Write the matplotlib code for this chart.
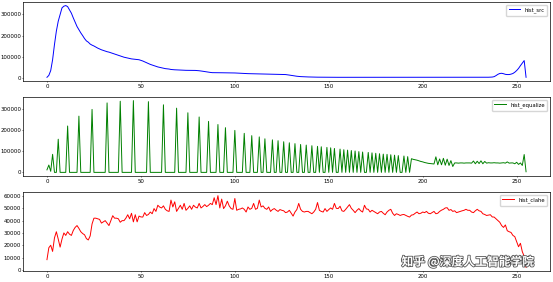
import matplotlib
matplotlib.use("Agg")
import matplotlib.pyplot as plt
import matplotlib.patheffects as pe

# histogram values (256 bins each)
hist_src = [
    3000, 12000, 35000, 86000, 158000, 221000, 268000, 300000, 331000, 339000, 342000, 337000, 322000, 306000, 284000, 264000,
    243000, 228000, 213000, 200000, 186000, 175000, 169000, 160000, 155000, 151000, 146000, 141000, 137000, 133000, 130000, 127000,
    124000, 122000, 119000, 116000, 113000, 110000, 107000, 104000, 101000, 98000, 96000, 94000, 92000, 90000, 89000, 88000,
    87000, 86000, 83000, 80000, 76000, 72000, 68000, 64000, 61000, 58000, 55000, 52000, 50000, 48000, 46000, 44000,
    43000, 42000, 40000, 39000, 38500, 38000, 38000, 37500, 37000, 36500, 36000, 36000, 36000, 36000, 36000, 35500,
    35000, 34000, 33000, 31500, 30000, 28500, 27000, 26000, 25000, 25000, 25000, 24800, 24600, 24500, 24400, 24300,
    24200, 24100, 24000, 23800, 23500, 23000, 22500, 22000, 21500, 21000, 20500, 20300, 20100, 20000, 19800, 19600,
    19400, 19200, 19000, 18800, 18600, 18400, 18200, 18000, 17800, 17600, 17400, 17200, 17000, 16800, 16500, 16000,
    15000, 13500, 12000, 10500, 9000, 8000, 7000, 6300, 5800, 5400, 5000, 4700, 4400, 4200, 4000, 3800,
    3600, 3500, 3400, 3300, 3200, 3200, 3100, 3100, 3000, 3000, 3000, 3000, 3000, 3000, 3000, 3000,
    3000, 2900, 3000, 3000, 2900, 3000, 3000, 3000, 2900, 3000, 3000, 3000, 2900, 3000, 3000, 3000,
    3000, 2900, 3000, 3000, 2900, 3000, 3000, 3000, 2900, 3000, 3000, 3000, 2900, 3000, 3000, 3000,
    3000, 2900, 3000, 3000, 2900, 3000, 3000, 3000, 2900, 3000, 3000, 3000, 2900, 3000, 3000, 3000,
    3000, 2900, 3000, 3000, 2900, 3000, 3000, 3000, 2900, 3000, 3000, 3000, 2900, 3000, 3000, 3000,
    3000, 2900, 3000, 3000, 2900, 3000, 3000, 3000, 2900, 3000, 3100, 3300, 3600, 4200, 6000, 11000,
    17000, 21000, 22000, 20000, 17000, 16000, 16000, 18000, 21000, 27000, 35000, 45000, 58000, 70000, 82000, 3000,
]

hist_equalize = [
    12000, 35000, 5000, 86000, 0, 0, 158000, 0, 0, 0, 0, 221000, 0, 0, 0, 0,
    0, 268000, 0, 0, 0, 0, 0, 0, 300000, 0, 0, 0, 0, 0, 0, 0,
    331000, 0, 0, 0, 0, 0, 0, 339000, 0, 0, 0, 0, 0, 0, 342000, 0,
    0, 0, 0, 0, 0, 0, 337000, 0, 0, 0, 0, 0, 0, 0, 322000, 0,
    0, 0, 0, 0, 0, 306000, 0, 0, 0, 0, 0, 284000, 0, 0, 0, 0,
    0, 264000, 0, 0, 0, 0, 243000, 0, 0, 0, 0, 228000, 0, 0, 0, 213000,
    0, 0, 0, 0, 200000, 0, 0, 0, 0, 186000, 0, 0, 0, 175000, 0, 0,
    0, 169000, 0, 0, 160000, 0, 0, 0, 155000, 0, 0, 151000, 0, 0, 146000, 0,
    0, 141000, 0, 0, 137000, 0, 0, 133000, 0, 0, 130000, 0, 0, 127000, 0, 0,
    124000, 0, 122000, 0, 0, 119000, 0, 117000, 0, 114000, 0, 0, 111000, 0, 108000, 0,
    106000, 0, 104000, 0, 102000, 0, 99000, 0, 97000, 0, 0, 95000, 0, 93000, 0, 91000,
    0, 89000, 0, 87000, 0, 86000, 0, 84000, 0, 82000, 0, 80000, 0, 0, 78000, 0,
    75000, 0, 65000, 62000, 60000, 58000, 55000, 52000, 50000, 47000, 45000, 43000, 42000, 41000, 40000, 74000,
    36000, 64000, 36000, 67000, 34000, 63000, 33000, 56000, 28000, 45000, 45000, 44000, 45000, 45000, 44000, 45000,
    45000, 45000, 44000, 54000, 41000, 53000, 42000, 55000, 41000, 52000, 44000, 46000, 45000, 45000, 46000, 45000,
    45000, 44000, 45000, 46000, 44000, 50000, 44000, 45000, 45000, 41000, 48000, 38000, 45000, 33000, 85000, 3000,
]

hist_clahe = [
    8300, 18000, 20000, 15000, 26000, 31000, 25000, 18500, 25000, 30000, 28000, 31000, 29000, 28000, 32000, 34500,
    36000, 33700, 31000, 29500, 28500, 25400, 24300, 27600, 37300, 42000, 42000, 41500, 41000, 38000, 39000, 40000,
    38000, 36000, 40000, 44000, 42000, 42000, 41500, 38700, 40000, 40000, 42000, 44800, 41500, 46000, 39000, 44800,
    39000, 43700, 43000, 42900, 46500, 44200, 45000, 47000, 45600, 49800, 47500, 52500, 51000, 50300, 52000, 49200,
    48000, 47500, 56700, 51100, 55300, 47500, 50000, 52500, 49200, 54000, 48400, 50000, 52000, 49200, 52500, 51000,
    50300, 54000, 50300, 51500, 53000, 51400, 52500, 54000, 53000, 58600, 53000, 60300, 50300, 57500, 49800, 52000,
    55800, 52000, 49800, 49200, 58000, 48400, 49200, 49500, 50300, 49200, 47000, 51100, 49200, 50000, 54000, 49200,
    50000, 56700, 51100, 52000, 50000, 49200, 51100, 47500, 49000, 49800, 48500, 47500, 49000, 48400, 48000, 46500,
    47000, 48400, 46000, 43700, 47000, 49000, 54000, 49200, 47500, 47000, 47500, 47500, 46500, 45600, 47000, 49200,
    54700, 48400, 47500, 47000, 49800, 47500, 49000, 50300, 49200, 54000, 50000, 49800, 51700, 48000, 47500, 49200,
    51100, 53000, 50000, 48400, 46500, 48400, 49800, 48000, 47000, 52500, 49500, 49200, 47000, 48400, 47500, 46500,
    45600, 47000, 47500, 46000, 44800, 47000, 48400, 49200, 46000, 44200, 45600, 45000, 44200, 44800, 45000, 44200,
    43500, 42900, 44500, 44800, 46000, 47000, 45600, 46000, 47000, 46500, 47500, 46000, 45600, 46500, 47500, 45600,
    46000, 47500, 48500, 49200, 50300, 50500, 48400, 49000, 47500, 48000, 46500, 47000, 47500, 48000, 48400, 49200,
    48400, 48400, 47000, 46500, 48000, 49200, 48000, 47500, 45600, 45000, 44200, 44500, 44800, 43000, 42900, 41500,
    40000, 38700, 36000, 34500, 36500, 31800, 31000, 30400, 28000, 27000, 23000, 18800, 21600, 14800, 11000, 2000,
]

series = [(hist_src, "b", "hist_src"),
          (hist_equalize, "g", "hist_equalize"),
          (hist_clahe, "r", "hist_clahe")]

fig, axes = plt.subplots(3, 1, figsize=(5.53, 2.82), dpi=100)
fig.subplots_adjust(left=0.0416, right=0.9946, top=0.993, bottom=0.039, hspace=0.204)

for ax, (values, color, label) in zip(axes, series):
    ax.plot(values, color, linewidth=0.7, label=label)
    ax.tick_params(labelsize=3.9, length=1.0, width=0.4, pad=0.4)
    ax.tick_params(axis="x", pad=1.5)
    for sp in ax.spines.values():
        sp.set_linewidth(0.5)
    ax.legend(loc="upper right", fontsize=3.8, handlelength=2.2, borderpad=0.5,
              frameon=True, fancybox=True, edgecolor="#cccccc", framealpha=0.8)

# watermark
fig.text(0.726, 0.058, "知乎 @深度人工智能学院", fontsize=8.5, color="white",
         family=["Noto Sans CJK SC", "DejaVu Sans"], weight="bold",
         path_effects=[pe.withStroke(linewidth=1.2, foreground="#555555")])

fig.savefig("out.png", dpi=100)
